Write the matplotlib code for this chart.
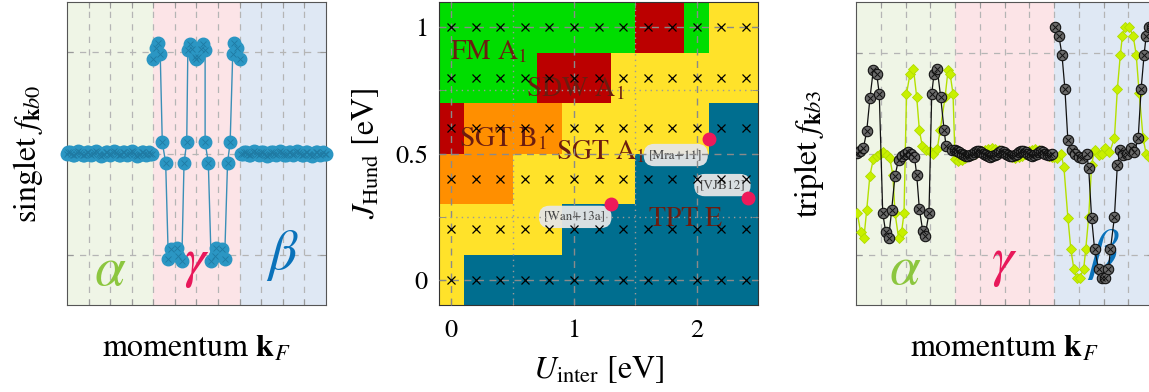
import numpy as np
import matplotlib.pyplot as plt
from matplotlib.colors import ListedColormap

plt.rcParams['font.family'] = 'STIXGeneral'
plt.rcParams['mathtext.fontset'] = 'stix'

# ---------------- data ----------------
# singlet f_kb0 (left panel), bands alpha | gamma | beta along k
sing_a_f = [0.0, 0.01, 0.01, 0.0, -0.01, -0.01, 0.0, 0.01, 0.02, 0.01, 0.0, -0.01,
            -0.01, 0.0, 0.01, 0.01, 0.0, -0.01, 0.0, 0.01, 0.02, 0.01, 0.0, -0.01,
            -0.02, -0.01, 0.0, 0.01, 0.01, 0.0, -0.01, 0.0, 0.01, 0.02, 0.01, 0.0,
            -0.01, -0.01, 0.0, 0.01, 0.01, 0.0, -0.01, 0.0, 0.01, 0.02, 0.01, 0.0,
            -0.01, -0.02, -0.01, 0.0, 0.01, 0.01, 0.0, -0.01, 0.0, 0.01, 0.0, 0.0]
sing_g_k = [1.00, 1.03, 1.06, 1.08, 1.104, 1.143, 1.174, 1.21, 1.27, 1.29, 1.33,
            1.356, 1.387, 1.40, 1.42, 1.45, 1.48, 1.50, 1.52, 1.55, 1.58, 1.60,
            1.60, 1.637, 1.67, 1.71, 1.73, 1.79, 1.826, 1.86, 1.89, 1.92, 1.94,
            1.97, 2.00]
sing_g_f = [0.93, 1.04, 1.09, 0.98, 0.11, -0.09, -1.04, -0.94, -0.925, -1.01, -1.06,
            -0.09, 0.11, 1.02, 1.08, 1.03, 0.95, 0.93, 0.95, 1.03, 1.08, 1.02,
            0.11, -0.09, -1.06, -1.01, -0.925, -0.94, -1.04, -0.09, 0.11, 0.98, 1.09,
            1.04, 0.93]
sing_b_f = [0.0, 0.0, 0.01, 0.01, 0.0, -0.01, -0.01, 0.0, 0.01, 0.02, 0.01, 0.0,
            -0.01, 0.0, 0.01, 0.01, 0.0, -0.01, -0.02, -0.01, 0.0, 0.01, 0.01, 0.0,
            -0.01, 0.0, 0.01, 0.02, 0.01, 0.0, -0.01, -0.01, 0.0, 0.01, 0.01, 0.0,
            -0.01, 0.0, 0.01, 0.02, 0.01, 0.0, -0.01, -0.01, 0.0, 0.01, 0.01, 0.0,
            -0.01, -0.02, -0.01, 0.0, 0.01, 0.01, 0.0, -0.01, 0.0, 0.01, 0.0, 0.0]

# triplet f_kb3 (right panel): black circles
trip_a_k = [0.007, 0.04, 0.074, 0.108, 0.141, 0.175, 0.209, 0.235, 0.27, 0.30, 0.33,
            0.36, 0.394, 0.43, 0.46, 0.49, 0.53, 0.56, 0.59, 0.613, 0.64, 0.674,
            0.697, 0.737, 0.765, 0.788, 0.82, 0.855, 0.89, 0.91, 0.965]
trip_a_f = [0.005, 0.02, 0.05, 0.22, 0.55, 0.83, 0.79, 0.59, -0.59, -0.78, -0.835,
            -0.56, -0.22, -0.06, -0.025, 0.0, 0.01, 0.0, -0.03, -0.21, -0.55, -0.765,
            -0.82, -0.59, 0.59, 0.79, 0.84, 0.56, 0.23, 0.07, 0.035]
trip_g_f = [0.03, 0.02, 0.01, 0.0, -0.01, -0.02, -0.02, -0.01, 0.0, 0.01, 0.02, 0.02,
            0.01, 0.0, -0.01, -0.02, -0.03, -0.02, -0.01, 0.0, 0.01, 0.02, 0.01, 0.0,
            -0.01, -0.02, -0.02, -0.01, 0.0, 0.01, 0.02, 0.02, 0.01, 0.0, -0.01, -0.02,
            -0.01, 0.0, 0.01, 0.02, 0.01, 0.0, -0.01, -0.01, 0.0]
trip_b_k = [2.01, 2.05, 2.08, 2.11, 2.14, 2.18, 2.21, 2.25, 2.28, 2.33, 2.35, 2.38,
            2.41, 2.45, 2.48, 2.51, 2.55, 2.57, 2.61, 2.64, 2.67, 2.70, 2.74, 2.78,
            2.81, 2.85, 2.88, 2.91, 2.93, 2.96, 2.99]
trip_b_f = [1.25, 1.16, 0.98, 0.64, 0.13, 0.035, 0.0, -0.03, -0.045, 0.0, -0.145, -0.64,
            -0.95, -1.14, -1.23, -1.23, -1.14, -0.95, -0.63, -0.11, 0.035, -0.015, 0.0,
            0.05, 0.01, 0.15, 0.64, 0.98, 1.16, 1.25, 1.25]

# triplet f_kb3: lime diamonds
lime_a_k = [0.013, 0.047, 0.08, 0.108, 0.14, 0.175, 0.21, 0.24, 0.275, 0.31, 0.34,
            0.372, 0.394, 0.43, 0.46, 0.485, 0.51, 0.546, 0.58, 0.613, 0.64, 0.67,
            0.71, 0.75, 0.78, 0.82, 0.85, 0.90, 0.93, 0.95, 0.98]
lime_a_f = [-0.59, -0.78, -0.835, -0.56, -0.22, -0.055, -0.02, 0.0, 0.01, -0.015, -0.04,
            -0.21, -0.59, -0.835, -0.78, -0.59, 0.59, 0.79, 0.84, 0.56, 0.23, 0.07,
            0.035, 0.02, 0.0, 0.04, 0.23, 0.56, 0.83, 0.79, 0.59]
lime_g_f = [-0.05, -0.07, -0.06, -0.04, -0.02, -0.01, 0.0, 0.01, 0.02, 0.03, 0.04, 0.05,
            0.04, 0.03, 0.02, 0.0, -0.02, -0.03, -0.04, -0.03, -0.02, 0.0, 0.02, 0.03,
            0.04, 0.03, 0.02, 0.0, -0.02, -0.03]
lime_b_k = [2.00, 2.03, 2.07, 2.10, 2.14, 2.17, 2.20, 2.23, 2.26, 2.30, 2.32, 2.35,
            2.38, 2.41, 2.45, 2.48, 2.52, 2.56, 2.61, 2.64, 2.67, 2.69, 2.72, 2.76,
            2.80, 2.83, 2.86, 2.90, 2.93, 2.96, 2.99]
lime_b_f = [-0.03, -0.045, 0.0, -0.135, -0.635, -0.95, -1.14, -1.23, -1.23, -1.14, -0.95,
            -0.63, -0.11, 0.035, -0.015, 0.0, 0.05, 0.01, 0.15, 0.64, 0.98, 1.16, 1.25,
            1.25, 1.16, 0.98, 0.60, 0.15, 0.0, -0.03, 0.0]

# phase diagram (middle panel)
U_vals = [0.0, 0.2, 0.4, 0.6, 0.8, 1.0, 1.2, 1.4, 1.6, 1.8, 2.0, 2.2, 2.4]
J_vals = [0.0, 0.2, 0.4, 0.6, 0.8, 1.0]
phase_names = ['FM', 'SDW', 'SGTB', 'SGTA', 'TPT']
phase_colors = ['#00dd00', '#bb0000', '#ff8f00', '#ffe22a', '#006e8f']
phase_rows = [  # J = 0.0 ... 1.0
    ['SGTA'] + ['TPT'] * 12,
    ['SGTA'] * 5 + ['TPT'] * 8,
    ['SGTB'] * 3 + ['SGTA'] * 5 + ['TPT'] * 5,
    ['SDW'] + ['SGTB'] * 4 + ['SGTA'] * 6 + ['TPT'] * 2,
    ['FM'] * 4 + ['SDW'] * 3 + ['SGTA'] * 6,
    ['FM'] * 8 + ['SDW'] * 2 + ['FM'] + ['SGTA'] * 2,
]
phase_labels = [(-0.01, 0.871, r'FM A$_1$'), (0.605, 0.726, r'SDW A$_1$'),
                (0.06, 0.528, r'SGT B$_1$'), (0.85, 0.475, r'SGT A$_1$'),
                (1.613, 0.214, 'TPT E')]
refs = [('[Mra+11]', 1.83, 0.494, 2.10, 0.558),
        ('[Wan+13a]', 1.01, 0.249, 1.30, 0.30),
        ('[VJB12]', 2.21, 0.375, 2.42, 0.324)]

band_colors = ['#eff5e6', '#fce4e7', '#dfe8f4']
band_names = [r'$\alpha$', r'$\gamma$', r'$\beta$']
band_text_colors = ['#8cc63f', '#e8185a', '#0a72ba']
band_text_y = [-1.16, -1.09, -1.0]

# ---------------- figure ----------------
fig = plt.figure(figsize=(11.49, 3.92), dpi=100)
axL = fig.add_axes([0.0583, 0.2219, 0.2254, 0.773])
axM = fig.add_axes([0.3821, 0.2219, 0.2776, 0.773])
axR = fig.add_axes([0.745, 0.2219, 0.2585, 0.773])


def style_side(ax, ylim):
    for i, c in enumerate(band_colors):
        ax.axvspan(i, i + 1, color=c, lw=0, zorder=0)
        ax.text(i + 0.5, band_text_y[i], band_names[i], color=band_text_colors[i],
                fontsize=40, ha='center', va='center', zorder=1)
    ax.set_xlim(0, 3)
    ax.set_ylim(-ylim, ylim)
    ax.set_xticks(np.arange(0.25, 3, 0.25))
    ax.set_yticks([-1, 0, 1])
    ax.set_xticklabels([])
    ax.set_yticklabels([])
    ax.tick_params(direction='in', length=4, color='#999999', top=True, right=True)
    ax.set_axisbelow(True)
    ax.grid(True, ls=(0, (5, 5)), color='#b5b5b5', lw=0.9)
    for s in ax.spines.values():
        s.set_color('#555555')
    ax.set_xlabel(r'momentum $\mathbf{k}_F$', fontsize=23, labelpad=18)


# left panel
style_side(axL, 1.49)
blue = '#2b96c3'
sa_k = np.linspace(0, 0.98, len(sing_a_f))
sb_k = np.linspace(2.02, 3.0, len(sing_b_f))
for kk, ff in [(sa_k, sing_a_f), (sing_g_k, sing_g_f), (sb_k, sing_b_f)]:
    axL.plot(kk, ff, '-', color='#3a8fb7', lw=1, zorder=3, clip_on=False)
    axL.plot(kk, ff, 'o', ms=9, mfc=blue, mec=blue, zorder=4, clip_on=False)
    axL.plot(kk, ff, 'x', ms=4.5, mew=0.6, color='#1f7aa3', zorder=5, clip_on=False)
axL.set_ylabel(r'singlet $f_{\mathbf{k}b0}$', fontsize=23, labelpad=12)

# right panel
style_side(axR, 1.5)
tg_k = np.linspace(1.0, 1.98, len(trip_g_f))
lg_k = np.linspace(1.0, 1.98, len(lime_g_f))
lime_k = list(lime_a_k) + list(lg_k) + list(lime_b_k)
lime_f = lime_a_f + lime_g_f + lime_b_f
axR.plot(lime_k, lime_f, '-', color='#b4e000', lw=1, zorder=3)
axR.plot(lime_k, lime_f, 'D', ms=5.5, mfc='#c8f000', mec='#b0dc00', mew=0.6, zorder=3)
blk_k1 = list(trip_a_k) + list(tg_k)
blk_f1 = trip_a_f + trip_g_f
for kk, ff in [(blk_k1, blk_f1), (trip_b_k, trip_b_f)]:
    axR.plot(kk, ff, '-', color='#111111', lw=0.9, zorder=4)
    axR.plot(kk, ff, 'o', ms=7.5, mfc='#6a6a6a', mec='#111111', mew=0.8, zorder=5)
    axR.plot(kk, ff, 'x', ms=4, mew=0.7, color='#111111', zorder=6)
axR.set_ylabel(r'triplet $f_{\mathbf{k}b3}$', fontsize=23, labelpad=18)

# middle panel: phase diagram
codes = np.array([[phase_names.index(p) for p in row] for row in phase_rows])
U_edges = np.append(np.array(U_vals) - 0.1, U_vals[-1] + 0.1)
J_edges = np.append(np.array(J_vals) - 0.1, J_vals[-1] + 0.1)
axM.pcolormesh(U_edges, J_edges, codes, cmap=ListedColormap(phase_colors),
               vmin=-0.5, vmax=len(phase_names) - 0.5, zorder=0)
UU, JJ = np.meshgrid(U_vals, J_vals)
axM.plot(UU.ravel(), JJ.ravel(), 'x', color='black', ms=6, mew=0.9, zorder=3)
axM.set_xlim(-0.1, 2.5)
axM.set_ylim(-0.1, 1.1)
axM.set_xticks([0, 1, 2])
axM.set_xticklabels(['0', '1', '2'])
axM.set_yticks([0, 0.5, 1])
axM.set_yticklabels(['0', '0.5', '1'])
axM.set_xticks([0.5, 1.5], minor=True)
axM.set_yticks([0.25, 0.75], minor=True)
axM.tick_params(which='both', direction='in', length=4, color='#888888',
                top=True, right=True, labelsize=19)
axM.tick_params(axis='x', pad=10)
axM.tick_params(axis='y', pad=8)
axM.set_axisbelow(False)  # grid over cells, labels and boxes
axM.grid(True, which='major', ls=(0, (5, 4)), color='#8a8a8a', lw=1)
axM.grid(True, which='minor', ls=(0, (1, 3)), color='#9a9a9a', lw=1)
for s in axM.spines.values():
    s.set_color('#333333')
for x, y, t in phase_labels:
    axM.text(x, y, t, color='#6b1d10', fontsize=20, ha='left', va='baseline', zorder=1)
for t, x, y, dx, dy in refs:
    axM.text(x, y, t, fontsize=9.5, color='#444444', ha='center', va='center', zorder=1.5,
             bbox=dict(boxstyle='round,pad=0.4,rounding_size=0.8', fc='#e6e6e6',
                       ec='none', alpha=0.95))
    axM.plot(dx, dy, 'o', ms=9, color='#ee1a5a', zorder=6, clip_on=False)
axM.set_xlabel(r'$U_{\rm inter}$ [eV]', fontsize=23, labelpad=8)
axM.set_ylabel(r'$J_{\rm Hund}$ [eV]', fontsize=23, labelpad=10)

fig.savefig('out.png', dpi=100)
